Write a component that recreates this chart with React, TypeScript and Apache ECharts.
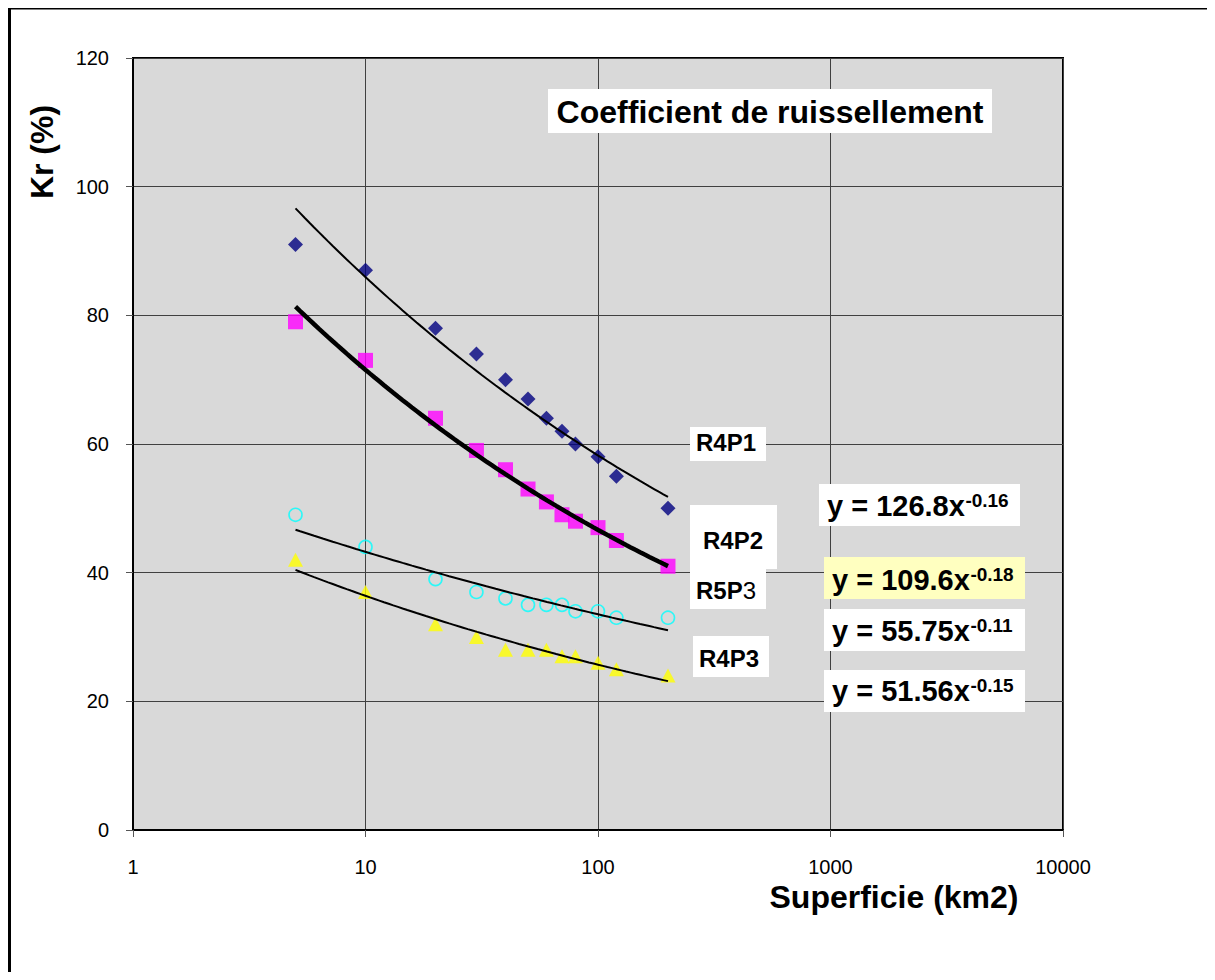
import React, { useEffect, useRef } from "react";
import * as echarts from "echarts";

// ---- data ----
const AREAS = [5, 10, 20, 30, 40, 50, 60, 70, 80, 100, 120, 200];
const R4P1 = [91, 87, 78, 74, 70, 67, 64, 62, 60, 58, 55, 50];
const R4P2 = [79, 73, 64, 59, 56, 53, 51, 49, 48, 47, 45, 41];
const R5P3 = [49, 44, 39, 37, 36, 35, 35, 35, 34, 34, 33, 33];
const R4P3 = [42, 37, 32, 30, 28, 28, 28, 27, 27, 26, 25, 24];
const X_TICKS = [1, 10, 100, 1000, 10000];
const Y_TICKS = [0, 20, 40, 60, 80, 100, 120];
const EQ_MAIN = ["y = 126.8x", "y = 109.6x", "y = 55.75x", "y = 51.56x"];
const EQ_EXP = ["-0.16", "-0.18", "-0.11", "-0.15"];

const FONT = 'Arial, "Liberation Sans", Helvetica, sans-serif';

// Excel-style power trendline (least squares on ln x, ln y), drawn across the data's x range
function powerTrend(xs: number[], ys: number[]) {
  const n = xs.length;
  let sx = 0, sy = 0, sxx = 0, sxy = 0;
  for (let i = 0; i < n; i++) {
    const lx = Math.log(xs[i]);
    const ly = Math.log(ys[i]);
    sx += lx; sy += ly; sxx += lx * lx; sxy += lx * ly;
  }
  const b = (n * sxy - sx * sy) / (n * sxx - sx * sx);
  const a = Math.exp((sy - b * sx) / n);
  const x0 = xs[0];
  const x1 = xs[n - 1];
  const pts: number[][] = [];
  const steps = 80;
  for (let i = 0; i <= steps; i++) {
    const x = x0 * Math.pow(x1 / x0, i / steps);
    pts.push([x, a * Math.pow(x, b)]);
  }
  return pts;
}

function measure(text: string, size: number, weight: string) {
  const ctx = document.createElement("canvas").getContext("2d");
  if (!ctx) return text.length * size * 0.55;
  ctx.font = `${weight} ${size}px ${FONT}`;
  return ctx.measureText(text).width;
}

const pair = (ys: number[]) => AREAS.map((x, i) => [x, ys[i]]);

export default function App() {
  const ref = useRef<HTMLDivElement>(null);

  useEffect(() => {
    if (!ref.current) return;
    const chart = echarts.init(ref.current, undefined, { renderer: "svg" });

    const box = (x: number, y: number, w: number, h: number, fill = "#FFFFFF") => ({
      type: "rect",
      shape: { x, y, width: w, height: h },
      style: { fill, stroke: "none" },
      z: 100,
    });
    const label = (x: number, y: number, text: string, size: number) => ({
      type: "text",
      x,
      y,
      z: 101,
      style: {
        text,
        fill: "#000",
        font: `bold ${size}px ${FONT}`,
        align: "left",
        verticalAlign: "middle",
      },
    });

    const eqBoxes = [
      { bx: 811, by: 478, fill: "#FFFFFF", tx: 819, cy: 500 },
      { bx: 816, by: 551, fill: "#FFFFC0", tx: 824, cy: 574 },
      { bx: 816, by: 603, fill: "#FFFFFF", tx: 824, cy: 625 },
      { bx: 816, by: 664, fill: "#FFFFFF", tx: 824, cy: 685 },
    ];
    const eqGraphics: any[] = [];
    eqBoxes.forEach((e, i) => {
      eqGraphics.push(box(e.bx, e.by, 201, 42, e.fill));
      eqGraphics.push(label(e.tx, e.cy, EQ_MAIN[i], 29));
      const w = measure(EQ_MAIN[i], 29, "bold");
      eqGraphics.push(label(e.tx + w + 0.5, e.cy - 6, EQ_EXP[i], 19));
    });

    const option: any = {
      animation: false,
      backgroundColor: "#FFFFFF",
      grid: {
        left: 125,
        top: 52,
        right: 144,
        bottom: 142,
        show: true,
        backgroundColor: "#D9D9D9",
        borderColor: "#000000",
        borderWidth: 2,
      },
      xAxis: {
        type: "log",
        logBase: 10,
        min: X_TICKS[0],
        max: X_TICKS[X_TICKS.length - 1],
        axisLine: { show: true, lineStyle: { color: "#000", width: 2 } },
        axisTick: { show: true, inside: false, length: 7, lineStyle: { color: "#555", width: 1 } },
        axisLabel: {
          show: true,
          margin: 27,
          fontSize: 20,
          fontFamily: FONT,
          color: "#000",
          formatter: (v: number) => String(Math.round(v)),
        },
        splitLine: { show: true, lineStyle: { color: "#404040", width: 1 } },
        minorTick: { show: false },
      },
      yAxis: {
        type: "value",
        min: Y_TICKS[0],
        max: Y_TICKS[Y_TICKS.length - 1],
        interval: Y_TICKS[1] - Y_TICKS[0],
        axisLine: { show: true, lineStyle: { color: "#000", width: 2 } },
        axisTick: { show: true, inside: false, length: 7, lineStyle: { color: "#555", width: 1 } },
        axisLabel: {
          show: true,
          margin: 24,
          fontSize: 20,
          fontFamily: FONT,
          color: "#000",
        },
        splitLine: { show: true, lineStyle: { color: "#404040", width: 1 } },
      },
      series: [
        {
          type: "scatter",
          name: "R4P1",
          data: pair(R4P1),
          symbol: "diamond",
          symbolSize: 15,
          itemStyle: { color: "#000080" },
          silent: true,
          z: 2,
        },
        {
          type: "scatter",
          name: "R4P2",
          data: pair(R4P2),
          symbol: "rect",
          symbolSize: 15,
          itemStyle: { color: "#FF00FF" },
          silent: true,
          z: 2,
        },
        {
          type: "scatter",
          name: "R5P3",
          data: pair(R5P3),
          symbol: "circle",
          symbolSize: 13,
          itemStyle: { color: "rgba(0,0,0,0)", borderColor: "#00FFFF", borderWidth: 1.6 },
          silent: true,
          z: 2,
        },
        {
          type: "scatter",
          name: "R4P3",
          data: pair(R4P3),
          symbol: "triangle",
          symbolSize: [15, 14],
          itemStyle: { color: "#FFFF00" },
          silent: true,
          z: 2,
        },
        {
          type: "line",
          name: "trend R4P1",
          data: powerTrend(AREAS, R4P1),
          showSymbol: false,
          symbol: "none",
          lineStyle: { color: "#000", width: 2 },
          silent: true,
          z: 3,
        },
        {
          type: "line",
          name: "trend R4P2",
          data: powerTrend(AREAS, R4P2),
          showSymbol: false,
          symbol: "none",
          lineStyle: { color: "#000", width: 4.5 },
          silent: true,
          z: 3,
        },
        {
          type: "line",
          name: "trend R5P3",
          data: powerTrend(AREAS, R5P3),
          showSymbol: false,
          symbol: "none",
          lineStyle: { color: "#000", width: 2 },
          silent: true,
          z: 3,
        },
        {
          type: "line",
          name: "trend R4P3",
          data: powerTrend(AREAS, R4P3),
          showSymbol: false,
          symbol: "none",
          lineStyle: { color: "#000", width: 2 },
          silent: true,
          z: 3,
        },
      ],
      graphic: [
        // outer chart-area border (left and top edges visible)
        {
          type: "line",
          shape: { x1: 1.5, y1: 0.5, x2: 1.5, y2: 966 },
          style: { stroke: "#000", lineWidth: 3 },
          z: 100,
        },
        {
          type: "line",
          shape: { x1: 0, y1: 2, x2: 1199, y2: 2 },
          style: { stroke: "#000", lineWidth: 3 },
          z: 100,
        },
        // chart title
        box(540, 83, 444, 44),
        {
          type: "text",
          x: 762,
          y: 106,
          z: 101,
          style: {
            text: "Coefficient de ruissellement",
            fill: "#000",
            font: `bold 32px ${FONT}`,
            align: "center",
            verticalAlign: "middle",
          },
        },
        // axis titles
        {
          type: "text",
          x: 34,
          y: 146,
          rotation: Math.PI / 2,
          z: 101,
          style: {
            text: "Kr (%)",
            fill: "#000",
            font: `bold 32px ${FONT}`,
            align: "center",
            verticalAlign: "middle",
          },
        },
        {
          type: "text",
          x: 886,
          y: 891,
          z: 101,
          style: {
            text: "Superficie (km2)",
            fill: "#000",
            font: `bold 32px ${FONT}`,
            align: "center",
            verticalAlign: "middle",
          },
        },
        // series labels
        box(682, 421, 76, 34),
        label(688, 436, "R4P1", 24),
        box(682, 499, 87, 64),
        label(695, 534, "R4P2", 24),
        box(682, 563, 76, 40),
        {
          type: "text",
          x: 688,
          y: 584,
          z: 101,
          style: {
            text: "{b|R5P}{r|3}",
            align: "left",
            verticalAlign: "middle",
            rich: {
              b: { fontFamily: FONT, fontSize: 24, fontWeight: "bold", fill: "#000", color: "#000" },
              r: { fontFamily: FONT, fontSize: 24, fontWeight: "normal", fill: "#000", color: "#000" },
            },
          },
        },
        box(685, 630, 76, 41),
        label(691, 652, "R4P3", 24),
        ...eqGraphics,
      ],
    };

    chart.setOption(option);
    return () => chart.dispose();
  }, []);

  return (
    <div
      ref={ref}
      style={{ width: 1199, height: 966, marginTop: -2, background: "#fff" }}
    />
  );
}
